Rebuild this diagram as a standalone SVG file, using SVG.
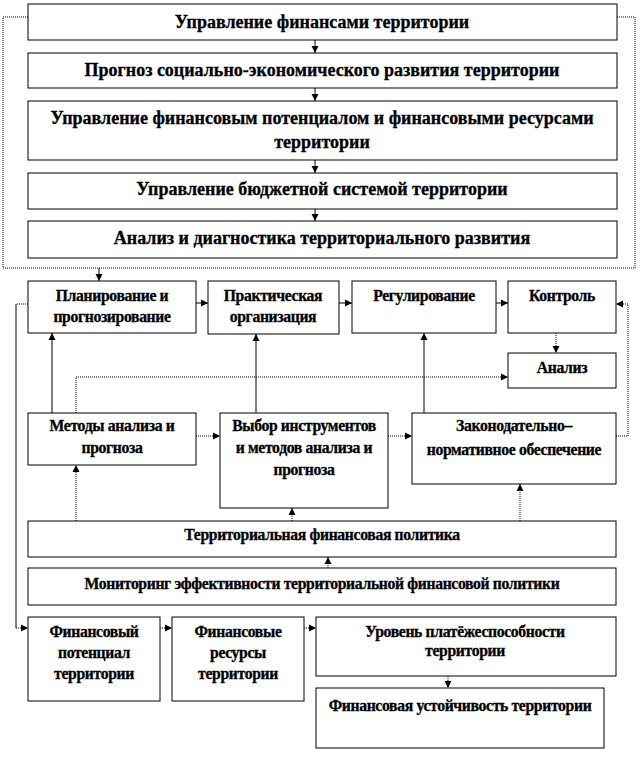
<svg xmlns="http://www.w3.org/2000/svg" width="641" height="771" viewBox="0 0 641 771">
<defs>
<marker id="ah" markerUnits="userSpaceOnUse" markerWidth="8" markerHeight="8" refX="7" refY="4" orient="auto">
<path d="M0,0.5 L7,4 L0,7.5 Z" fill="#000"/>
</marker>
<style>
.box{fill:#fff;stroke:#000;stroke-width:1}
.t{font-family:'Liberation Serif','DejaVu Serif',serif;font-weight:700;fill:#000;stroke:#000;stroke-width:0.3;text-anchor:middle}
.big{font-size:18px}
.sm{font-size:15.7px;letter-spacing:-0.35px}
.c{fill:none;stroke:#000;stroke-width:1}
.d{fill:none;stroke:#000;stroke-width:1;stroke-dasharray:1,1}
</style>
</defs>
<rect width="641" height="771" fill="#fff"/>

<g id="connectors">
<path class="d" d="M28,17 H3 V268 H635 V17 H617"/>
<path class="c" d="M315,40 V53" marker-end="url(#ah)"/>
<path class="c" d="M315,88 V101" marker-end="url(#ah)"/>
<path class="c" d="M315,160 V173" marker-end="url(#ah)"/>
<path class="c" d="M315,209 V221" marker-end="url(#ah)"/>
<path class="c" d="M99,268 V281" marker-end="url(#ah)"/>
<path class="d" d="M28,304 H16"/>
<path class="c" d="M16,304 V628"/>
<path class="d" d="M16,628 H28" marker-end="url(#ah)"/>
<path class="c" d="M196,303 H208" marker-end="url(#ah)"/>
<path class="c" d="M339,303 H352" marker-end="url(#ah)"/>
<path class="c" d="M496,303 H508" marker-end="url(#ah)"/>
<path class="d" d="M556,333 V353" marker-end="url(#ah)"/>
<path class="d" d="M616,436 H628 V304 H616" marker-end="url(#ah)"/>
<path class="c" d="M52,413 V333" marker-end="url(#ah)"/>
<path class="d" d="M76,413 V377 H508" marker-end="url(#ah)"/>
<path class="d" d="M196,436 H220" marker-end="url(#ah)"/>
<path class="c" d="M256,413 V334" marker-end="url(#ah)"/>
<path class="d" d="M388,436 H412" marker-end="url(#ah)"/>
<path class="c" d="M424,413 V333" marker-end="url(#ah)"/>
<path class="d" d="M76,521 V465" marker-end="url(#ah)"/>
<path class="d" d="M292,521 V508" marker-end="url(#ah)"/>
<path class="d" d="M520,521 V484" marker-end="url(#ah)"/>
<path class="d" d="M328,568 V557" marker-end="url(#ah)"/>
<path class="d" d="M160,628 H172" marker-end="url(#ah)"/>
<path class="d" d="M304,628 H316" marker-end="url(#ah)"/>
<path class="d" d="M448,676 V688" marker-end="url(#ah)"/>
</g>

<g id="n1"><rect class="box" x="28" y="4" width="589" height="36"/><text class="t big" x="322" y="28">Управление финансами территории</text></g>
<g id="n2"><rect class="box" x="28" y="53" width="589" height="35"/><text class="t big" x="322" y="76">Прогноз социально-экономического развития территории</text></g>
<g id="n3"><rect class="box" x="28" y="101" width="589" height="59"/><text class="t big" x="322" y="124">Управление финансовым потенциалом и финансовыми ресурсами</text><text class="t big" x="322" y="148">территории</text></g>
<g id="n4"><rect class="box" x="28" y="173" width="589" height="36"/><text class="t big" x="322" y="195">Управление бюджетной системой территории</text></g>
<g id="n5"><rect class="box" x="28" y="221" width="589" height="37"/><text class="t big" x="322" y="244">Анализ и диагностика территориального развития</text></g>

<g id="plan"><rect class="box" x="28" y="281" width="168" height="52"/><text class="t sm" x="112" y="301">Планирование и</text><text class="t sm" x="112" y="322">прогнозирование</text></g>
<g id="pract"><rect class="box" x="208" y="281" width="131" height="53"/><text class="t sm" x="273" y="301">Практическая</text><text class="t sm" x="273" y="322">организация</text></g>
<g id="reg"><rect class="box" x="352" y="281" width="144" height="52"/><text class="t sm" x="424" y="301">Регулирование</text></g>
<g id="ctrl"><rect class="box" x="508" y="281" width="108" height="52"/><text class="t sm" x="562" y="301">Контроль</text></g>
<g id="anal"><rect class="box" x="508" y="353" width="108" height="35"/><text class="t sm" x="562" y="373">Анализ</text></g>
<g id="meth"><rect class="box" x="28" y="413" width="168" height="52"/><text class="t sm" x="112" y="431">Методы анализа и</text><text class="t sm" x="112" y="453">прогноза</text></g>
<g id="choice"><rect class="box" x="220" y="413" width="168" height="95"/><text class="t sm" x="304" y="431">Выбор инструментов</text><text class="t sm" x="304" y="453">и методов анализа и</text><text class="t sm" x="304" y="475">прогноза</text></g>
<g id="leg"><rect class="box" x="412" y="413" width="204" height="71"/><text class="t sm" x="514" y="431">Законодательно–</text><text class="t sm" x="514" y="455">нормативное обеспечение</text></g>
<g id="policy"><rect class="box" x="28" y="521" width="588" height="36"/><text class="t sm" x="322" y="540">Территориальная финансовая политика</text></g>
<g id="mon"><rect class="box" x="28" y="568" width="588" height="37"/><text class="t sm" x="322" y="589">Мониторинг эффективности территориальной финансовой политики</text></g>
<g id="fpot"><rect class="box" x="28" y="617" width="132" height="84"/><text class="t sm" x="94" y="637">Финансовый</text><text class="t sm" x="94" y="658">потенциал</text><text class="t sm" x="94" y="679">территории</text></g>
<g id="fres"><rect class="box" x="172" y="617" width="132" height="84"/><text class="t sm" x="238" y="637">Финансовые</text><text class="t sm" x="238" y="658">ресурсы</text><text class="t sm" x="238" y="679">территории</text></g>
<g id="solv"><rect class="box" x="316" y="617" width="300" height="59"/><text class="t sm" x="465" y="637">Уровень платёжеспособности</text><text class="t sm" x="465" y="656">территории</text></g>
<g id="stab"><rect class="box" x="316" y="688" width="288" height="60"/><text class="t sm" x="460" y="711">Финансовая устойчивость территории</text></g>
</svg>
